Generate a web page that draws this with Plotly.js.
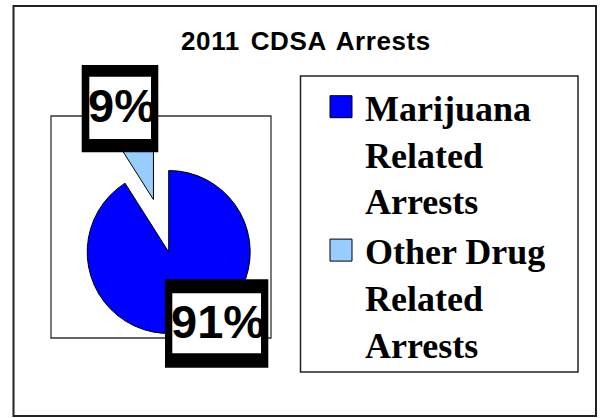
<!DOCTYPE html>
<html>
<head>
<meta charset="utf-8">
<script src="https://cdn.plot.ly/plotly-3.0.1.min.js"></script>
<style>
  html, body { margin: 0; padding: 0; background: #ffffff; }
  #chart { width: 600px; height: 418px; }
  .gtitle { letter-spacing: 0.6px; word-spacing: 3px; }
  path.legendpie { d: path('M11,11H-11V-11H11Z'); }
</style>
</head>
<body>
<div id="chart"></div>
<script>
// ---- data ----
var chartTitle = "2011 CDSA Arrests";
var categories = ["Marijuana<br>Related<br>Arrests", "Other Drug<br>Related<br>Arrests"];
var values = [91, 9];
var colors = ["#0000FF", "#99CCFF"];
var pulls = [0, 0.67];

// ---- layout helpers (pixel -> paper, margins are 0) ----
var W = 600, H = 418;
function px(x) { return x / W; }
function py(y) { return 1 - y / H; }

// pie geometry (layout)
var cx = 168.7, cy = 252, R = 81.5;
var maxPull = Math.max.apply(null, pulls);
var half = R * (1 + maxPull);

var total = values.reduce(function (a, b) { return a + b; }, 0);
var pctText = values.map(function (v) { return Math.round(v / total * 100) + "%"; });

var trace = {
  type: "pie",
  labels: categories,
  values: values,
  pull: pulls,
  sort: false,
  direction: "clockwise",
  rotation: 0,
  textinfo: "none",
  hoverinfo: "none",
  marker: { colors: colors, line: { color: "#000000", width: 1 } },
  domain: { x: [px(cx - half), px(cx + half)], y: [py(cy + half), py(cy - half)] }
};

var frameLine = { color: "#222222", width: 2 };
var shapes = [
  // outer chart frame
  { type: "rect", xref: "paper", yref: "paper", x0: px(13.5), x1: px(596), y0: py(6), y1: py(416), line: frameLine, layer: "below" },
  // plot area frame
  { type: "rect", xref: "paper", yref: "paper", x0: px(51), x1: px(271), y0: py(116), y1: py(338), line: { color: "#333333", width: 1.3 }, layer: "below" },
  // legend frame
  { type: "rect", xref: "paper", yref: "paper", x0: px(300.5), x1: px(578), y0: py(76), y1: py(372), line: { color: "#222222", width: 1.5 }, layer: "below" },
  // label box for small slice
  { type: "rect", xref: "paper", yref: "paper", x0: px(81.7), x1: px(158.3), y0: py(65), y1: py(152.3), fillcolor: "#000000", line: { width: 0 }, layer: "above" },
  { type: "rect", xref: "paper", yref: "paper", x0: px(89.3), x1: px(151), y0: py(76.7), y1: py(139), fillcolor: "#FFFFFF", line: { width: 0 }, layer: "above" },
  // label box for large slice
  { type: "rect", xref: "paper", yref: "paper", x0: px(165), x1: px(268.3), y0: py(279.3), y1: py(367.7), fillcolor: "#000000", line: { width: 0 }, layer: "above" },
  { type: "rect", xref: "paper", yref: "paper", x0: px(172.3), x1: px(261), y0: py(293.3), y1: py(353.3), fillcolor: "#FFFFFF", line: { width: 0 }, layer: "above" }
];

var labelFont = { family: "Arial, 'Liberation Sans', sans-serif", size: 47, color: "#000000", weight: 700 };
var annotations = [
  { xref: "paper", yref: "paper", x: px(88), y: py(105.5), xanchor: "left", yanchor: "middle",
    text: pctText[1], showarrow: false, font: labelFont, borderpad: 0, borderwidth: 0, align: "left" },
  { xref: "paper", yref: "paper", x: px(171.4), y: py(321.3), xanchor: "left", yanchor: "middle",
    text: pctText[0], showarrow: false, font: labelFont, borderpad: 0, borderwidth: 0, align: "left" }
];

var layout = {
  width: W, height: H,
  margin: { l: 0, r: 0, t: 0, b: 0, pad: 0, autoexpand: false },
  paper_bgcolor: "#FFFFFF",
  plot_bgcolor: "#FFFFFF",
  title: {
    text: chartTitle,
    x: px(306), xanchor: "center",
    y: py(40.5), yanchor: "middle",
    xref: "paper", yref: "paper",
    font: { family: "Arial, 'Liberation Sans', sans-serif", size: 26, color: "#000000", weight: 700 }
  },
  showlegend: true,
  legend: {
    x: px(317), xanchor: "left",
    y: py(76.8), yanchor: "top",
    bgcolor: "rgba(0,0,0,0)",
    borderwidth: 0,
    itemwidth: 38,
    valign: "top",
    font: { family: "'Times New Roman', 'Liberation Serif', serif", size: 36, color: "#000000", weight: 700 }
  },
  shapes: shapes,
  annotations: annotations
};

Plotly.newPlot("chart", [trace], layout, { displayModeBar: false, staticPlot: true }).then(function () {
  document.querySelectorAll("path.legendpie").forEach(function (p) {
    p.setAttribute("d", "M11,11H-11V-11H11Z");
  });
});
</script>
</body>
</html>
